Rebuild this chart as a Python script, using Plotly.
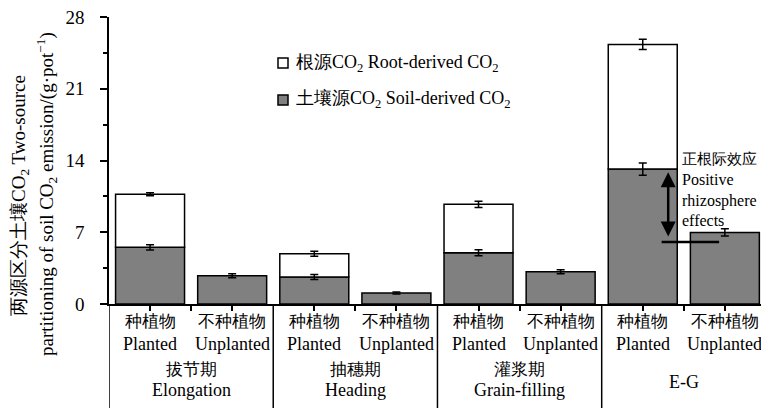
import plotly.graph_objects as go

# Two-source partitioning of soil CO2 emission (g·pot-1)
treatments_cn = ["种植物", "不种植物"] * 4
treatments_en = ["Planted", "Unplanted"] * 4
stages_cn = ["拔节期", "抽穗期", "灌浆期", ""]
stages_en = ["Elongation", "Heading", "Grain-filling", "E-G"]

soil_co2 = [5.53, 2.76, 2.63, 1.07, 5.00, 3.15, 13.16, 6.98]
soil_err = [0.25, 0.20, 0.25, 0.10, 0.30, 0.20, 0.60, 0.35]
root_co2 = [5.17, 0.0, 2.27, 0.0, 4.72, 0.0, 12.16, 0.0]
total_err = [0.15, 0.0, 0.25, 0.0, 0.30, 0.0, 0.50, 0.0]

legend_names = ["根源CO<sub>2</sub> Root-derived CO<sub>2</sub>",
                "土壤源CO<sub>2</sub> Soil-derived CO<sub>2</sub>"]
legend_fills = ["white", "#808080"]

# rhizosphere effect marker (E-G group)
effect_top = 12.85
effect_base = 6.05

FONT = "Liberation Serif"
SOIL_GRAY = "#808080"
x = list(range(len(soil_co2)))
root_idx = [i for i, r in enumerate(root_co2) if r > 0]

fig = go.Figure()
fig.add_trace(go.Bar(
    x=x, y=soil_co2, name=legend_names[1],
    marker=dict(color=SOIL_GRAY, line=dict(color="black", width=1.5)),
    width=0.84,
))
fig.add_trace(go.Bar(
    x=[x[i] for i in root_idx], y=[root_co2[i] for i in root_idx],
    base=[soil_co2[i] for i in root_idx], name=legend_names[0],
    marker=dict(color="white", line=dict(color="black", width=1.5)),
    width=0.84,
))
# error bars drawn above the bars
fig.add_trace(go.Scatter(
    x=x, y=soil_co2, mode="markers", marker=dict(size=0.1, color="rgba(0,0,0,0)"),
    error_y=dict(type="data", array=soil_err, color="black", thickness=1.5, width=4),
    hoverinfo="skip",
))
fig.add_trace(go.Scatter(
    x=[x[i] for i in root_idx], y=[soil_co2[i] + root_co2[i] for i in root_idx],
    mode="markers", marker=dict(size=0.1, color="rgba(0,0,0,0)"),
    error_y=dict(type="data", array=[total_err[i] for i in root_idx],
                 color="black", thickness=1.5, width=4),
    hoverinfo="skip",
))

PW, PH = 652.0, 287.0  # plot area size in px


def px_x(px):
    return (px - 109) / PW


def px_y(py):
    return (304 - py) / PH


annotations = []
shapes = []
for i in x:
    annotations.append(dict(x=i, y=0, xref="x", yref="paper", text=treatments_cn[i],
                            showarrow=False, yanchor="middle", yshift=-17,
                            font=dict(size=17)))
    annotations.append(dict(x=i, y=0, xref="x", yref="paper", text=treatments_en[i],
                            showarrow=False, yanchor="middle", yshift=-40,
                            font=dict(size=18)))
for g in range(4):
    cx = 2 * g + 0.5
    if stages_cn[g]:
        annotations.append(dict(x=cx, y=0, xref="x", yref="paper", text=stages_cn[g],
                                showarrow=False, yanchor="middle", yshift=-65,
                                font=dict(size=17)))
        annotations.append(dict(x=cx, y=0, xref="x", yref="paper", text=stages_en[g],
                                showarrow=False, yanchor="middle", yshift=-86,
                                font=dict(size=18)))
    else:
        annotations.append(dict(x=cx, y=0, xref="x", yref="paper", text=stages_en[g],
                                showarrow=False, yanchor="middle", yshift=-78,
                                font=dict(size=18)))

# legend: boxes and labels
for k, (name, fill) in enumerate(zip(legend_names, legend_fills)):
    cy = 63 + 37 * k
    shapes.append(dict(type="rect", xref="paper", yref="paper",
                       x0=px_x(278), x1=px_x(288), y0=px_y(cy + 5), y1=px_y(cy - 5),
                       fillcolor=fill, line=dict(color="black", width=1.5)))
    annotations.append(dict(x=px_x(294), y=px_y(cy), xref="paper", yref="paper",
                            text=name, showarrow=False, xanchor="left", yanchor="middle",
                            font=dict(size=18)))

# y-axis title, two rotated lines
annotations.append(dict(x=px_x(20), y=px_y(196), xref="paper", yref="paper",
                        text="两源区分土壤CO<sub>2</sub> Two-source", textangle=-90,
                        showarrow=False, xanchor="center", yanchor="middle",
                        font=dict(size=19)))
annotations.append(dict(x=px_x(46), y=px_y(194), xref="paper", yref="paper",
                        text="partitioning of soil CO<sub>2</sub> emission/(g·pot<sup>−1</sup>)",
                        textangle=-90, showarrow=False, xanchor="center", yanchor="middle",
                        font=dict(size=19)))

# double-headed arrow for the rhizosphere effect
annotations.append(dict(x=6.31, y=effect_top, ax=6.31, ay=effect_base + 0.4,
                        xref="x", yref="y", axref="x", ayref="y", text="",
                        showarrow=True, arrowhead=2, arrowside="end+start",
                        arrowsize=1.2, arrowwidth=2.5, arrowcolor="black"))
annotations.append(dict(x=6.455, y=15.1, xref="x", yref="y",
                        text="<span style='font-size:15px'>正根际效应</span><br>Positive<br>rhizosphere<br>effects",
                        showarrow=False, xanchor="left", yanchor="top", align="left",
                        font=dict(size=16)))

for b in [-0.5, 1.5, 3.5, 5.5]:
    shapes.append(dict(type="line", xref="x", yref="paper", x0=b, x1=b, y0=0, y1=-0.37,
                       line=dict(color="black", width=1.5)))
shapes.append(dict(type="line", xref="x", yref="y", x0=6.23, x1=6.93,
                   y0=effect_base, y1=effect_base, line=dict(color="black", width=2.5)))

fig.update_layout(
    width=761, height=408,
    margin=dict(l=109, r=0, t=17, b=104),
    paper_bgcolor="white", plot_bgcolor="white",
    font=dict(family=FONT, color="black", size=18),
    barmode="overlay",
    showlegend=False,
    annotations=annotations,
    shapes=shapes,
)
fig.update_xaxes(range=[-0.5, 7.44], showgrid=False, zeroline=False,
                 showline=True, linecolor="black", linewidth=1.5,
                 tickvals=x, showticklabels=False, ticks="outside", ticklen=5,
                 tickcolor="black", tickwidth=1.5,
                 minor=dict(tickvals=[0.5, 2.5, 4.5, 6.5], ticks="outside", ticklen=5,
                            tickcolor="black", tickwidth=1.5))
fig.update_yaxes(range=[0, 28], dtick=7, showgrid=False, zeroline=False,
                 showline=True, linecolor="black", linewidth=1.5,
                 ticks="outside", ticklen=7, tickcolor="black", tickwidth=1.5,
                 tickfont=dict(size=19), ticklabelstandoff=12,
                 minor=dict(dtick=3.5, ticks="outside", ticklen=4,
                            tickcolor="black", tickwidth=1.5))

fig.write_html("out.html")
